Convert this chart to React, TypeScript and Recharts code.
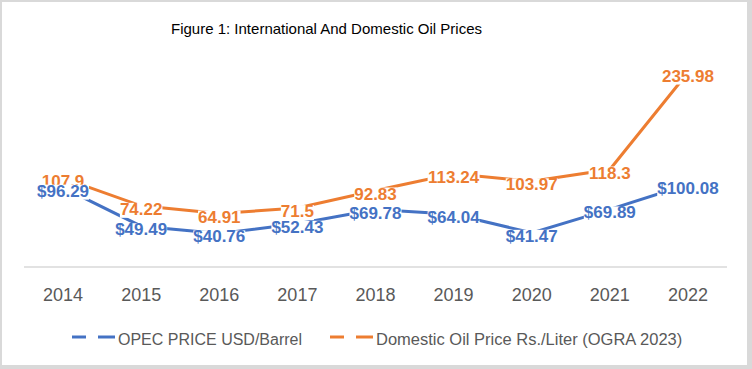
import React from "react";
import { LineChart, Line, XAxis, YAxis, LabelList } from "recharts";

const years = ["2014", "2015", "2016", "2017", "2018", "2019", "2020", "2021", "2022"];
const opecPrice = [96.29, 49.49, 40.76, 52.43, 69.78, 64.04, 41.47, 69.89, 100.08];
const domesticPrice = [107.9, 74.22, 64.91, 71.5, 92.83, 113.24, 103.97, 118.3, 235.98];
const yDomain = [0, 250];

const data = years.map((y, i) => ({ year: y, opec: opecPrice[i], domestic: domesticPrice[i] }));

const BLUE = "#4472C4";
const ORANGE = "#ED7D31";
const FONT = "'Liberation Sans', Arial, sans-serif";

const charW = (c: string) => (c === "." ? 0.278 : 0.556);
const textWidth = (s: string, fs: number) => s.split("").reduce((a, c) => a + charW(c), 0) * fs;

const makeLabel = (color: string, prefix: string, fixed: boolean) => (props: any) => {
  const { x, y, value } = props;
  if (x == null || y == null || value == null) return null;
  const txt = prefix + (fixed ? Number(value).toFixed(2) : String(value));
  const fs = 17;
  const w = textWidth(txt, fs);
  return (
    <g>
      <rect x={x - w / 2} y={y - 3} width={w} height={15} fill="#ffffff" />
      <text x={x} y={y + 9} textAnchor="middle" fontFamily={FONT} fontSize={fs} fontWeight="bold" fill={color}>
        {txt}
      </text>
    </g>
  );
};

export default function App() {
  return (
    <div style={{ position: "absolute", left: 0, top: 0, width: 752, height: 369, background: "#D9D9D9" }}>
      <div style={{ position: "absolute", left: 2, top: 2, width: 745, height: 363, background: "#ffffff" }} />
      <div style={{ position: "absolute", left: 0, top: 0 }}>
        <LineChart width={752} height={369} data={data} margin={{ top: 61, right: 25, left: 24, bottom: 72 }}>
          <XAxis
            dataKey="year"
            scale="band"
            height={30}
            tickLine={false}
            tickSize={0}
            tickMargin={21}
            axisLine={{ stroke: "#D9D9D9", strokeWidth: 1.5 }}
            tick={{ fill: "#595959", fontSize: 18, fontFamily: FONT }}
          />
          <YAxis hide domain={yDomain} />
          <Line dataKey="opec" stroke={BLUE} strokeWidth={3} dot={false} activeDot={false} isAnimationActive={false} />
          <Line dataKey="domestic" stroke={ORANGE} strokeWidth={3} dot={false} activeDot={false} isAnimationActive={false} />
          <Line dataKey="domestic" stroke="none" dot={false} activeDot={false} legendType="none" isAnimationActive={false}>
            <LabelList dataKey="domestic" content={makeLabel(ORANGE, "", false)} />
          </Line>
          <Line dataKey="opec" stroke="none" dot={false} activeDot={false} legendType="none" isAnimationActive={false}>
            <LabelList dataKey="opec" content={makeLabel(BLUE, "$", true)} />
          </Line>
        </LineChart>
      </div>
      <div style={{ position: "absolute", left: 171, top: 19, fontFamily: FONT, fontSize: 15, color: "#000", whiteSpace: "nowrap", lineHeight: "20px" }}>
        Figure 1: International And Domestic Oil Prices
      </div>
      <svg style={{ position: "absolute", left: 0, top: 325 }} width={752} height={30}>
        <line x1={72} x2={86} y1={12} y2={12} stroke={BLUE} strokeWidth={3} />
        <line x1={98} x2={115} y1={12} y2={12} stroke={BLUE} strokeWidth={3} />
        <text x={118} y={20} fontFamily={FONT} fontSize={16} fill="#595959">OPEC PRICE USD/Barrel</text>
        <line x1={330} x2={344} y1={12} y2={12} stroke={ORANGE} strokeWidth={3} />
        <line x1={356} x2={373} y1={12} y2={12} stroke={ORANGE} strokeWidth={3} />
        <text x={376} y={20} fontFamily={FONT} fontSize={16.5} fill="#595959">Domestic Oil Price Rs./Liter (OGRA 2023)</text>
      </svg>
    </div>
  );
}
